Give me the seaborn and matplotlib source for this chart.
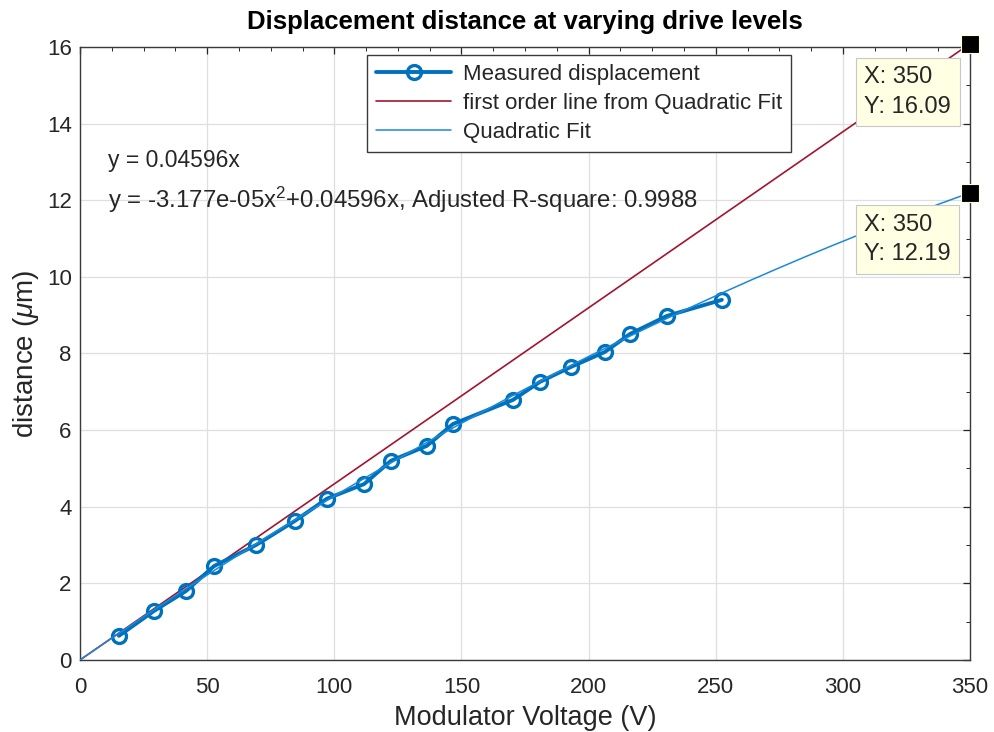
import numpy as np
import pandas as pd
import matplotlib
matplotlib.use("Agg")
import matplotlib.pyplot as plt
import seaborn as sns
from matplotlib.ticker import MultipleLocator

# ---- data ----
voltage = [15.3, 29.1, 41.7, 52.7, 69.2, 84.5, 97.1, 111.7, 122.3, 136.4,
           146.7, 170.3, 180.9, 193.1, 206.4, 216.3, 230.8, 252.4]
displacement = [0.63, 1.28, 1.80, 2.45, 3.00, 3.63, 4.21, 4.59, 5.20, 5.59,
                6.16, 6.79, 7.26, 7.65, 8.04, 8.51, 8.98, 9.40]
lin_coef = 0.04596
quad_coef = -3.177e-05
fit_x = list(np.linspace(0, 350, 200))
tip_x = [350, 350]
tip_y = [16.09, 12.19]
title = "Displacement distance at varying drive levels"

sns.set_theme(style="whitegrid")
plt.rcParams['font.family'] = ['Liberation Sans', 'DejaVu Sans']
plt.rcParams['mathtext.fontset'] = 'custom'
plt.rcParams['mathtext.it'] = 'Liberation Sans:italic'
plt.rcParams['mathtext.rm'] = 'Liberation Sans'

TXT = "#262626"
fig = plt.figure(figsize=(9.95, 7.32), dpi=100)
ax = fig.add_axes([0.0804, 0.0984, 0.8945, 0.8374])

df = pd.DataFrame({"x": voltage, "y": displacement})
fx = np.array(fit_x)
df_lin = pd.DataFrame({"x": fx, "y": lin_coef * fx})
df_quad = pd.DataFrame({"x": fx, "y": quad_coef * fx**2 + lin_coef * fx})

sns.lineplot(data=df, x="x", y="y", ax=ax, color="#0072BD", lw=2.8,
             marker="o", markersize=10, markerfacecolor="none",
             markeredgecolor="#0072BD", markeredgewidth=2.4,
             label="Measured displacement", zorder=3, sort=False)
sns.lineplot(data=df_lin, x="x", y="y", ax=ax, color="#A2142F", lw=1.2,
             label="first order line from Quadratic Fit", zorder=2)
sns.lineplot(data=df_quad, x="x", y="y", ax=ax, color="#1E88D8", lw=1.1,
             label="Quadratic Fit", zorder=4)

ax.set_xlim(0, 350)
ax.set_ylim(0, 16)
ax.xaxis.set_major_locator(MultipleLocator(50))
ax.xaxis.set_minor_locator(MultipleLocator(12.5))
ax.yaxis.set_major_locator(MultipleLocator(2))
ax.yaxis.set_minor_locator(MultipleLocator(1))
ax.grid(True, which="major", color="#DFDFDF", lw=0.9)
ax.grid(False, which="minor")
ax.set_facecolor("white")
for s in ax.spines.values():
    s.set_color("#3A3A3A")
    s.set_linewidth(1.0)
ax.tick_params(which="both", direction="in", top=True, right=True,
               colors=TXT, labelsize=16)
ax.tick_params(which="major", length=5, width=0.9)
ax.tick_params(which="minor", length=3, width=0.7)
ax.tick_params(axis="x", pad=12)
ax.tick_params(axis="y", pad=6)

ax.set_xlabel("Modulator Voltage (V)", fontsize=19.5, color=TXT, labelpad=5)
ax.set_ylabel(r"distance ($\mu$m)", fontsize=20, color=TXT, labelpad=4)
ax.set_title(title, fontsize=18.5, fontweight="bold", color="black", pad=13)

leg = ax.legend(loc="upper left", bbox_to_anchor=(0.3225, 0.987),
                fontsize=16, frameon=True, fancybox=False, framealpha=1,
                edgecolor="#3A3A3A", borderpad=0.4, labelspacing=0.36,
                handlelength=3.4, handletextpad=0.5, borderaxespad=0)
leg.get_frame().set_linewidth(1.0)

ax.text(11, 13.05, "y = 0.04596x", fontsize=16.5, color=TXT, va="center")
ax.text(11, 12.0, r"y = -3.177e-05x$^2$+0.04596x, Adjusted R-square: 0.9988",
        fontsize=17.3, color=TXT, va="center")

# data tips
ax.scatter(tip_x, tip_y, marker="s", s=150, color="black", clip_on=False,
           zorder=6, edgecolors="#FFFFE0", linewidths=0.8)
for ytop, yv in [(15.5, tip_y[0]), (11.65, tip_y[1])]:
    ax.text(308.5, ytop, "X: 350\nY: " + f"{yv:.2f}", fontsize=17,
            color=TXT, va="top", ha="left", linespacing=1.45, zorder=5,
            bbox=dict(boxstyle="square,pad=0.35", facecolor="#FFFFE3",
                      edgecolor="#C8C8C8", lw=0.8))

fig.savefig("out.png", dpi=100, facecolor="white")
